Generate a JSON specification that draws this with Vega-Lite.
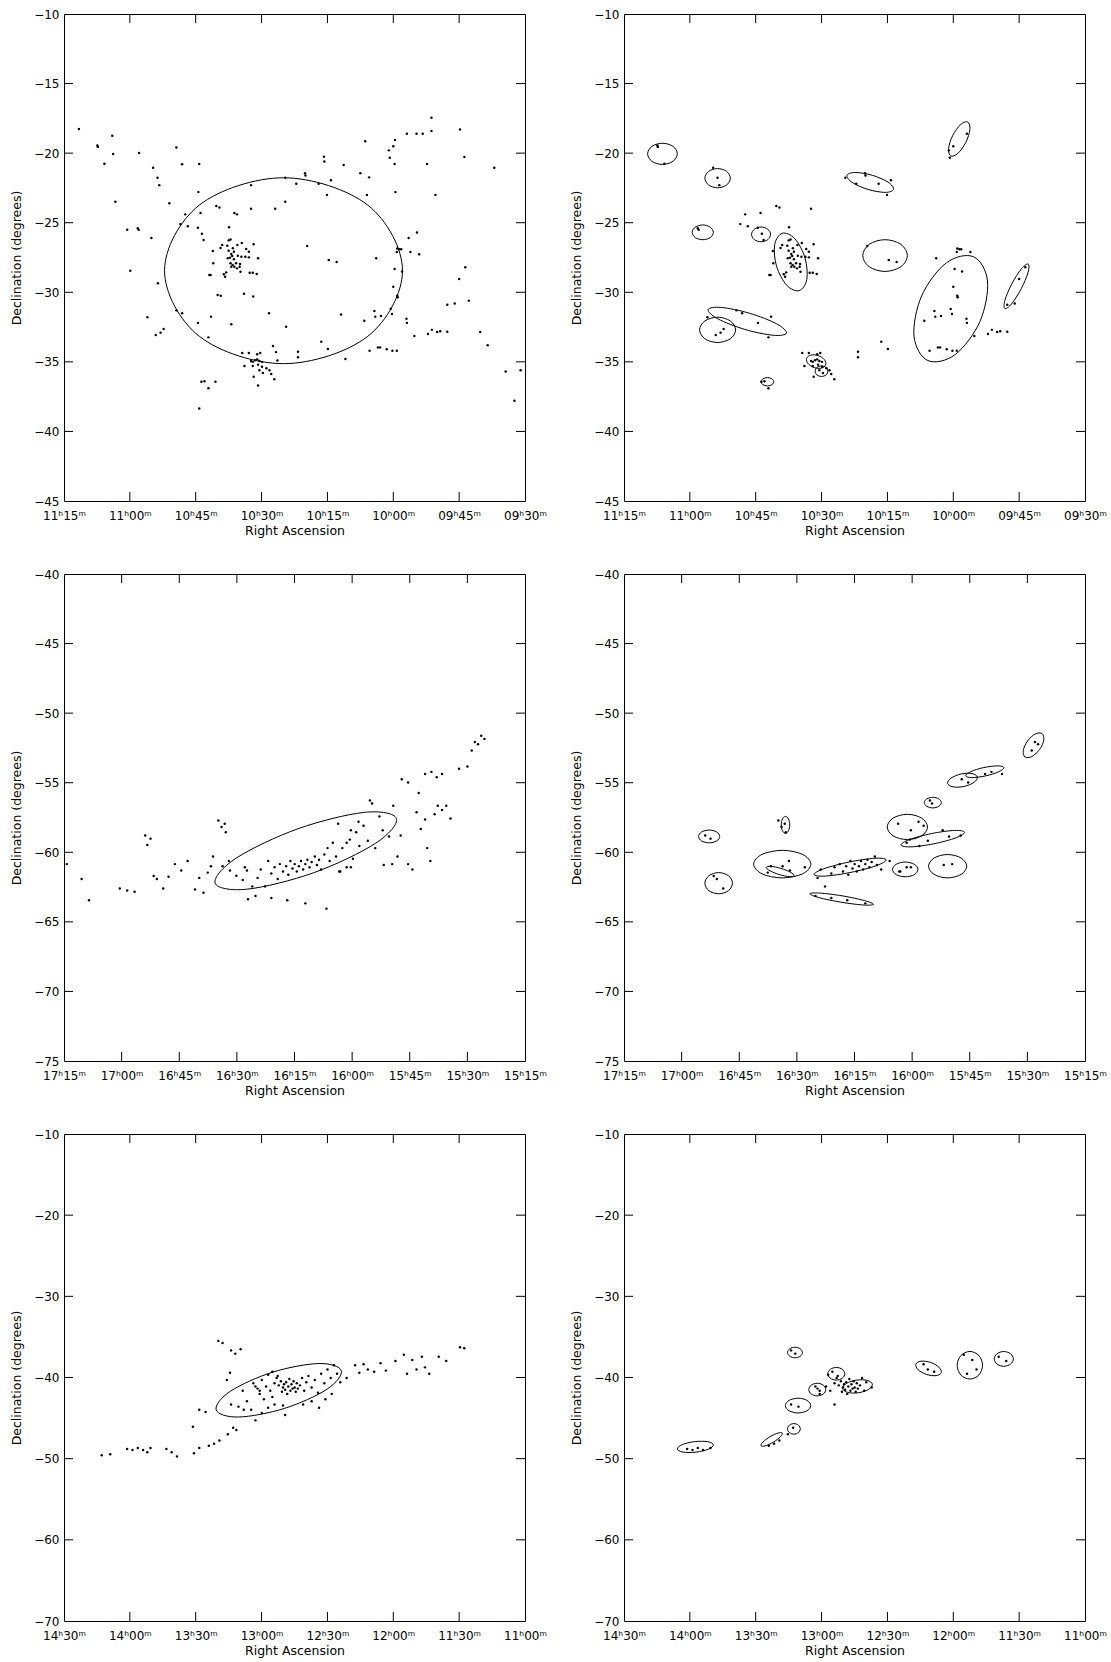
{
"$schema":"https://vega.github.io/schema/vega-lite/v6.json",
"autosize":{"type":"pad"},
"padding":{"left":10,"top":7,"right":5,"bottom":5},
"background":"white",
"config":{
"font":"DejaVu Sans",
"view":{"stroke":"black","strokeWidth":1},
"axis":{"grid":false,"domain":false,"ticks":false,"tickSize":0,"labelFont":"DejaVu Sans","labelFontSize":12,"labelColor":"black","labelOverlap":false,"labelFlush":false,"titleFont":"DejaVu Sans","titleFontSize":12.5,"titleFontWeight":"normal","titleColor":"black"},
"axisX":{"labelPadding":9,"titlePadding":3},
"axisY":{"labelPadding":5,"titlePadding":10}
},
"datasets":{
"pts1":[
{"ra":671.6,"de":-18.27,"g":0},{"ra":667.4,"de":-19.45,"g":1},{"ra":667.3,"de":-19.55,"g":1},{"ra":664.0,"de":-18.75,"g":0},{"ra":663.8,"de":-20.06,"g":0},{"ra":665.8,"de":-20.76,"g":1},{"ra":657.9,"de":-19.99,"g":0},{"ra":654.7,"de":-21.05,"g":1},{"ra":653.7,"de":-21.77,"g":1},{"ra":653.3,"de":-22.3,"g":1},{"ra":649.4,"de":-19.6,"g":0},{"ra":648.1,"de":-20.8,"g":0},{"ra":644.2,"de":-20.78,"g":0},{"ra":644.4,"de":-22.8,"g":0},{"ra":632.4,"de":-22.3,"g":0},{"ra":624.6,"de":-21.77,"g":1},{"ra":622.1,"de":-22.2,"g":1},
{"ra":651.0,"de":-23.6,"g":0},{"ra":647.4,"de":-24.4,"g":1},{"ra":648.5,"de":-25.1,"g":1},{"ra":646.8,"de":-25.26,"g":1},{"ra":643.9,"de":-24.3,"g":1},{"ra":640.3,"de":-23.8,"g":1},{"ra":639.6,"de":-23.9,"g":1},{"ra":636.2,"de":-24.3,"g":0},{"ra":635.6,"de":-24.4,"g":0},{"ra":632.4,"de":-24.0,"g":1},{"ra":626.9,"de":-24.0,"g":0},{"ra":624.6,"de":-23.5,"g":0},{"ra":620.1,"de":-21.45,"g":1},{"ra":620.0,"de":-21.6,"g":1},{"ra":615.8,"de":-20.26,"g":0},{"ra":615.7,"de":-20.6,"g":0},{"ra":611.3,"de":-20.85,"g":0},{"ra":617.0,"de":-22.2,"g":1},{"ra":614.2,"de":-21.95,"g":1},{"ra":615.1,"de":-23.0,"g":1},{"ra":607.5,"de":-21.45,"g":0},{"ra":605.5,"de":-21.74,"g":0},{"ra":606.0,"de":-23.0,"g":0},{"ra":600.8,"de":-20.33,"g":1},{"ra":599.7,"de":-20.78,"g":0},{"ra":599.5,"de":-22.8,"g":0},{"ra":592.3,"de":-20.78,"g":0},{"ra":590.4,"de":-23.0,"g":0},
{"ra":644.5,"de":-25.36,"g":1},{"ra":643.6,"de":-25.8,"g":1},{"ra":643.2,"de":-26.24,"g":1},{"ra":637.4,"de":-25.33,"g":1},{"ra":655.1,"de":-26.1,"g":0},{"ra":594.6,"de":-25.7,"g":0},{"ra":596.5,"de":-26.1,"g":0},{"ra":599.1,"de":-26.85,"g":1},{"ra":598.6,"de":-26.9,"g":1},{"ra":598.2,"de":-26.9,"g":1},{"ra":599.2,"de":-27.1,"g":1},{"ra":596.1,"de":-27.1,"g":1},{"ra":594.1,"de":-27.27,"g":0},{"ra":603.9,"de":-27.56,"g":1},{"ra":614.7,"de":-27.68,"g":1},{"ra":612.9,"de":-27.82,"g":1},{"ra":619.6,"de":-26.67,"g":1},{"ra":599.7,"de":-28.33,"g":1},{"ra":598.0,"de":-28.5,"g":1},{"ra":600.0,"de":-29.6,"g":1},{"ra":599.1,"de":-30.25,"g":1},{"ra":599.0,"de":-30.35,"g":1},{"ra":587.7,"de":-30.9,"g":1},{"ra":653.6,"de":-29.35,"g":0},{"ra":649.4,"de":-31.3,"g":1},{"ra":648.1,"de":-31.5,"g":1},{"ra":654.1,"de":-33.07,"g":1},{"ra":653.0,"de":-32.9,"g":1},{"ra":652.3,"de":-32.64,"g":1},{"ra":644.5,"de":-32.2,"g":1},{"ra":641.5,"de":-31.75,"g":1},{"ra":642.1,"de":-33.24,"g":1},{"ra":636.9,"de":-32.3,"g":0},{"ra":640.0,"de":-30.2,"g":0},{"ra":639.3,"de":-30.25,"g":0},{"ra":634.0,"de":-30.1,"g":0},{"ra":631.9,"de":-30.3,"g":0},{"ra":628.3,"de":-31.5,"g":0},{"ra":624.4,"de":-32.47,"g":0},{"ra":611.9,"de":-31.6,"g":0},{"ra":616.4,"de":-33.55,"g":1},{"ra":614.9,"de":-34.08,"g":1},{"ra":621.7,"de":-34.27,"g":1},{"ra":621.7,"de":-34.67,"g":1},{"ra":626.4,"de":-34.9,"g":0},{"ra":626.7,"de":-34.3,"g":0},{"ra":627.4,"de":-33.86,"g":0},{"ra":610.9,"de":-34.8,"g":0},{"ra":606.6,"de":-32.04,"g":1},{"ra":605.4,"de":-34.2,"g":1},{"ra":604.3,"de":-31.35,"g":1},{"ra":602.8,"de":-31.7,"g":1},{"ra":604.1,"de":-31.75,"g":1},{"ra":600.6,"de":-31.2,"g":1},{"ra":600.3,"de":-31.56,"g":1},{"ra":597.0,"de":-31.9,"g":1},{"ra":596.9,"de":-32.2,"g":1},{"ra":595.2,"de":-33.14,"g":1},{"ra":603.5,"de":-33.96,"g":1},{"ra":603.0,"de":-33.96,"g":1},{"ra":601.5,"de":-34.1,"g":1},{"ra":600.2,"de":-34.2,"g":1},{"ra":599.2,"de":-34.2,"g":1},{"ra":592.1,"de":-33.0,"g":1},{"ra":591.2,"de":-32.7,"g":1},{"ra":590.0,"de":-32.85,"g":1},{"ra":589.3,"de":-32.8,"g":1},{"ra":587.7,"de":-32.83,"g":1},
{"ra":634.4,"de":-34.36,"g":1},{"ra":632.9,"de":-34.36,"g":1},{"ra":631.0,"de":-34.45,"g":1},{"ra":630.3,"de":-34.36,"g":1},{"ra":632.4,"de":-34.94,"g":1},{"ra":632.0,"de":-35.0,"g":1},{"ra":631.5,"de":-34.88,"g":1},{"ra":631.0,"de":-34.82,"g":1},{"ra":630.5,"de":-34.94,"g":1},{"ra":629.9,"de":-35.0,"g":1},{"ra":633.9,"de":-35.3,"g":1},{"ra":632.0,"de":-35.3,"g":1},{"ra":630.8,"de":-35.2,"g":1},{"ra":629.9,"de":-35.35,"g":1},{"ra":628.9,"de":-35.46,"g":1},{"ra":628.2,"de":-35.6,"g":1},{"ra":630.5,"de":-35.6,"g":1},{"ra":629.7,"de":-35.8,"g":1},{"ra":627.8,"de":-35.87,"g":1},{"ra":627.1,"de":-36.25,"g":1},{"ra":631.8,"de":-36.07,"g":1},{"ra":630.8,"de":-36.7,"g":0},{"ra":643.7,"de":-36.43,"g":1},{"ra":643.0,"de":-36.4,"g":1},{"ra":640.5,"de":-36.43,"g":0},{"ra":642.1,"de":-36.9,"g":1},
{"ra":641.1,"de":-27.03,"g":1},{"ra":639.35,"de":-26.82,"g":1},{"ra":638.97,"de":-26.6,"g":1},{"ra":637.8,"de":-26.65,"g":1},{"ra":637.5,"de":-26.27,"g":1},{"ra":637.07,"de":-26.2,"g":1},{"ra":636.54,"de":-26.84,"g":1},{"ra":636.3,"de":-27.08,"g":1},{"ra":637.5,"de":-27.01,"g":1},{"ra":636.9,"de":-27.25,"g":1},{"ra":636.7,"de":-27.39,"g":1},{"ra":637.2,"de":-27.51,"g":1},{"ra":637.7,"de":-27.56,"g":1},{"ra":636.3,"de":-27.63,"g":1},{"ra":637.07,"de":-27.92,"g":1},{"ra":636.6,"de":-28.04,"g":1},{"ra":636.9,"de":-28.16,"g":1},{"ra":636.2,"de":-28.16,"g":1},{"ra":635.6,"de":-28.28,"g":1},{"ra":635.0,"de":-28.16,"g":1},{"ra":634.8,"de":-28.52,"g":1},{"ra":638.06,"de":-28.57,"g":1},{"ra":638.6,"de":-28.71,"g":1},{"ra":638.3,"de":-28.88,"g":1},{"ra":641.0,"de":-27.92,"g":1},{"ra":641.9,"de":-28.76,"g":1},{"ra":641.6,"de":-28.76,"g":1},{"ra":635.5,"de":-26.6,"g":1},{"ra":634.5,"de":-26.46,"g":1},{"ra":633.5,"de":-26.89,"g":1},{"ra":632.9,"de":-27.08,"g":1},{"ra":631.8,"de":-26.55,"g":1},{"ra":635.4,"de":-27.37,"g":1},{"ra":634.6,"de":-27.44,"g":1},{"ra":633.7,"de":-27.44,"g":1},{"ra":632.9,"de":-27.49,"g":1},{"ra":630.8,"de":-27.56,"g":1},{"ra":635.8,"de":-27.92,"g":1},{"ra":634.9,"de":-27.97,"g":1},{"ra":632.7,"de":-28.59,"g":1},{"ra":632.0,"de":-28.59,"g":1},{"ra":631.1,"de":-28.69,"g":1},
{"ra":663.3,"de":-23.5,"g":0},{"ra":660.6,"de":-25.5,"g":0},{"ra":658.2,"de":-25.4,"g":1},{"ra":658.0,"de":-25.5,"g":1},{"ra":659.9,"de":-28.45,"g":0},{"ra":656.0,"de":-31.8,"g":1},{"ra":644.2,"de":-38.35,"g":0},{"ra":606.4,"de":-19.15,"g":0},{"ra":601.0,"de":-19.8,"g":1},{"ra":600.0,"de":-19.5,"g":1},{"ra":599.6,"de":-19.05,"g":0},{"ra":596.9,"de":-18.6,"g":1},{"ra":594.7,"de":-18.6,"g":0},{"ra":593.3,"de":-18.6,"g":0},{"ra":591.3,"de":-17.46,"g":0},{"ra":591.3,"de":-18.4,"g":0},{"ra":584.8,"de":-18.3,"g":0},{"ra":583.8,"de":-20.28,"g":0},{"ra":577.0,"de":-21.05,"g":0},{"ra":583.6,"de":-28.2,"g":1},{"ra":585.0,"de":-29.05,"g":1},{"ra":586.0,"de":-30.8,"g":1},{"ra":582.8,"de":-30.6,"g":0},{"ra":580.2,"de":-32.85,"g":0},{"ra":578.5,"de":-33.8,"g":0},{"ra":574.4,"de":-35.7,"g":0},{"ra":572.4,"de":-37.8,"g":0},{"ra":571.0,"de":-35.6,"g":0}
],
"ell1":[
{"e":1,"i":0,"ra":652.1,"de":-28.45},{"e":1,"i":1,"ra":644.16,"de":-23.73},{"e":1,"i":2,"ra":625.0,"de":-21.77},{"e":1,"i":3,"ra":605.84,"de":-23.73},{"e":1,"i":4,"ra":597.9,"de":-28.45},{"e":1,"i":5,"ra":605.84,"de":-33.17},{"e":1,"i":6,"ra":625.0,"de":-35.13},{"e":1,"i":7,"ra":644.16,"de":-33.17}
],
"ell2":[
{"e":1,"i":0,"ra":669.62,"de":-20.05},{"e":1,"i":1,"ra":668.63,"de":-19.51},{"e":1,"i":2,"ra":666.24,"de":-19.29},{"e":1,"i":3,"ra":663.85,"de":-19.51},{"e":1,"i":4,"ra":662.86,"de":-20.05},{"e":1,"i":5,"ra":663.85,"de":-20.59},{"e":1,"i":6,"ra":666.24,"de":-20.81},{"e":1,"i":7,"ra":668.63,"de":-20.59},
{"e":2,"i":0,"ra":656.58,"de":-21.8},{"e":2,"i":1,"ra":655.73,"de":-21.31},{"e":2,"i":2,"ra":653.68,"de":-21.11},{"e":2,"i":3,"ra":651.63,"de":-21.31},{"e":2,"i":4,"ra":650.78,"de":-21.8},{"e":2,"i":5,"ra":651.63,"de":-22.29},{"e":2,"i":6,"ra":653.68,"de":-22.49},{"e":2,"i":7,"ra":655.73,"de":-22.29},
{"e":3,"i":0,"ra":659.47,"de":-25.69},{"e":3,"i":1,"ra":658.76,"de":-25.32},{"e":3,"i":2,"ra":657.06,"de":-25.16},{"e":3,"i":3,"ra":655.36,"de":-25.32},{"e":3,"i":4,"ra":654.65,"de":-25.69},{"e":3,"i":5,"ra":655.36,"de":-26.07},{"e":3,"i":6,"ra":657.06,"de":-26.22},{"e":3,"i":7,"ra":658.76,"de":-26.07},
{"e":4,"i":0,"ra":657.78,"de":-32.7},{"e":4,"i":1,"ra":656.58,"de":-32.06},{"e":4,"i":2,"ra":653.68,"de":-31.79},{"e":4,"i":3,"ra":650.78,"de":-32.06},{"e":4,"i":4,"ra":649.58,"de":-32.7},{"e":4,"i":5,"ra":650.78,"de":-33.34},{"e":4,"i":6,"ra":653.68,"de":-33.61},{"e":4,"i":7,"ra":656.58,"de":-33.34},
{"e":5,"i":0,"ra":637.99,"de":-32.93},{"e":5,"i":1,"ra":641.0,"de":-33.09},{"e":5,"i":2,"ra":647.47,"de":-32.67},{"e":5,"i":3,"ra":653.62,"de":-31.91},{"e":5,"i":4,"ra":655.85,"de":-31.25},{"e":5,"i":5,"ra":652.84,"de":-31.09},{"e":5,"i":6,"ra":646.37,"de":-31.51},{"e":5,"i":7,"ra":640.22,"de":-32.27},
{"e":6,"i":0,"ra":645.95,"de":-25.84},{"e":6,"i":1,"ra":645.31,"de":-25.47},{"e":6,"i":2,"ra":643.78,"de":-25.31},{"e":6,"i":3,"ra":642.25,"de":-25.47},{"e":6,"i":4,"ra":641.61,"de":-25.84},{"e":6,"i":5,"ra":642.25,"de":-26.22},{"e":6,"i":6,"ra":643.78,"de":-26.37},{"e":6,"i":7,"ra":645.31,"de":-26.22},
{"e":7,"i":0,"ra":635.09,"de":-29.88},{"e":7,"i":1,"ra":633.36,"de":-29.07},{"e":7,"i":2,"ra":633.78,"de":-27.52},{"e":7,"i":3,"ra":636.09,"de":-26.15},{"e":7,"i":4,"ra":638.95,"de":-25.76},{"e":7,"i":5,"ra":640.68,"de":-26.58},{"e":7,"i":6,"ra":640.26,"de":-28.12},{"e":7,"i":7,"ra":637.95,"de":-29.49},
{"e":8,"i":0,"ra":643.78,"de":-36.43},{"e":8,"i":1,"ra":643.36,"de":-36.22},{"e":8,"i":2,"ra":642.33,"de":-36.13},{"e":8,"i":3,"ra":641.31,"de":-36.22},{"e":8,"i":4,"ra":640.88,"de":-36.43},{"e":8,"i":5,"ra":641.31,"de":-36.64},{"e":8,"i":6,"ra":642.33,"de":-36.73},{"e":8,"i":7,"ra":643.36,"de":-36.64},
{"e":9,"i":0,"ra":629.06,"de":-35.21},{"e":9,"i":1,"ra":630.02,"de":-35.45},{"e":9,"i":2,"ra":631.69,"de":-35.41},{"e":9,"i":3,"ra":633.09,"de":-35.12},{"e":9,"i":4,"ra":633.4,"de":-34.75},{"e":9,"i":5,"ra":632.44,"de":-34.51},{"e":9,"i":6,"ra":630.77,"de":-34.55},{"e":9,"i":7,"ra":629.37,"de":-34.84},
{"e":10,"i":0,"ra":631.47,"de":-35.67},{"e":10,"i":1,"ra":631.05,"de":-35.4},{"e":10,"i":2,"ra":630.02,"de":-35.29},{"e":10,"i":3,"ra":628.99,"de":-35.4},{"e":10,"i":4,"ra":628.57,"de":-35.67},{"e":10,"i":5,"ra":628.99,"de":-35.94},{"e":10,"i":6,"ra":630.02,"de":-36.05},{"e":10,"i":7,"ra":631.05,"de":-35.94},
{"e":11,"i":0,"ra":613.61,"de":-22.6},{"e":11,"i":1,"ra":615.5,"de":-22.82},{"e":11,"i":2,"ra":619.4,"de":-22.61},{"e":11,"i":3,"ra":623.01,"de":-22.11},{"e":11,"i":4,"ra":624.23,"de":-21.6},{"e":11,"i":5,"ra":622.34,"de":-21.39},{"e":11,"i":6,"ra":618.44,"de":-21.59},{"e":11,"i":7,"ra":614.83,"de":-22.09},
{"e":12,"i":0,"ra":620.61,"de":-27.36},{"e":12,"i":1,"ra":619.13,"de":-26.55},{"e":12,"i":2,"ra":615.54,"de":-26.22},{"e":12,"i":3,"ra":611.96,"de":-26.55},{"e":12,"i":4,"ra":610.47,"de":-27.36},{"e":12,"i":5,"ra":611.96,"de":-28.17},{"e":12,"i":6,"ra":615.54,"de":-28.5},{"e":12,"i":7,"ra":619.13,"de":-28.17},
{"e":13,"i":0,"ra":595.38,"de":-27.45},{"e":13,"i":1,"ra":592.21,"de":-29.19},{"e":13,"i":2,"ra":593.93,"de":-32.1},{"e":13,"i":3,"ra":599.55,"de":-34.47},{"e":13,"i":4,"ra":605.76,"de":-34.91},{"e":13,"i":5,"ra":608.94,"de":-33.17},{"e":13,"i":6,"ra":607.21,"de":-30.26},{"e":13,"i":7,"ra":601.6,"de":-27.89},
{"e":14,"i":0,"ra":596.71,"de":-17.76},{"e":14,"i":1,"ra":596.21,"de":-18.29},{"e":14,"i":2,"ra":597.13,"de":-19.22},{"e":14,"i":3,"ra":598.94,"de":-20.01},{"e":14,"i":4,"ra":600.57,"de":-20.2},{"e":14,"i":5,"ra":601.07,"de":-19.67},{"e":14,"i":6,"ra":600.15,"de":-18.74},{"e":14,"i":7,"ra":598.34,"de":-17.95},
{"e":15,"i":0,"ra":582.94,"de":-27.97},{"e":15,"i":1,"ra":582.96,"de":-28.57},{"e":15,"i":2,"ra":584.53,"de":-29.75},{"e":15,"i":3,"ra":586.72,"de":-30.83},{"e":15,"i":4,"ra":588.26,"de":-31.17},{"e":15,"i":5,"ra":588.24,"de":-30.57},{"e":15,"i":6,"ra":586.67,"de":-29.39},{"e":15,"i":7,"ra":584.48,"de":-28.31}
],
"pts3":[
{"ra":1034.28,"de":-60.85,"g":0},{"ra":1030.42,"de":-61.92,"g":0},{"ra":1028.49,"de":-63.44,"g":0},{"ra":1020.48,"de":-62.6,"g":0},{"ra":1018.55,"de":-62.75,"g":0},{"ra":1016.62,"de":-62.83,"g":0},{"ra":1013.86,"de":-58.79,"g":1},{"ra":1012.48,"de":-59.02,"g":1},{"ra":1013.31,"de":-59.48,"g":0},{"ra":1011.65,"de":-61.7,"g":1},{"ra":1010.83,"de":-61.92,"g":1},{"ra":1009.17,"de":-62.6,"g":1},{"ra":1007.79,"de":-61.76,"g":0},{"ra":1006.14,"de":-60.85,"g":0},{"ra":1004.48,"de":-61.31,"g":0},{"ra":1002.82,"de":-60.62,"g":0},{"ra":1000.89,"de":-62.68,"g":0},{"ra":999.79,"de":-61.84,"g":0},{"ra":998.69,"de":-62.91,"g":0},{"ra":997.58,"de":-61.46,"g":1},
{"ra":994.82,"de":-57.72,"g":1},{"ra":993.99,"de":-58.18,"g":1},{"ra":993.17,"de":-57.95,"g":1},{"ra":992.89,"de":-58.56,"g":1},{"ra":993.72,"de":-61.0,"g":1},{"ra":991.79,"de":-61.31,"g":1},{"ra":990.13,"de":-61.69,"g":0},{"ra":988.48,"de":-61.99,"g":0},{"ra":987.37,"de":-61.31,"g":0},{"ra":985.99,"de":-62.45,"g":0},{"ra":984.61,"de":-61.84,"g":1},{"ra":983.78,"de":-61.23,"g":1},{"ra":982.68,"de":-62.45,"g":1},{"ra":981.85,"de":-60.62,"g":0},{"ra":981.03,"de":-61.53,"g":1},{"ra":980.2,"de":-61.08,"g":1},{"ra":979.37,"de":-61.92,"g":0},{"ra":978.82,"de":-60.85,"g":1},{"ra":977.99,"de":-61.38,"g":1},{"ra":977.16,"de":-61.0,"g":1},
{"ra":976.61,"de":-61.61,"g":1},{"ra":976.06,"de":-60.62,"g":1},{"ra":975.51,"de":-61.16,"g":1},{"ra":974.95,"de":-60.85,"g":1},{"ra":974.4,"de":-61.38,"g":1},{"ra":973.85,"de":-61.0,"g":1},{"ra":973.3,"de":-60.62,"g":1},{"ra":972.75,"de":-61.23,"g":1},{"ra":972.19,"de":-60.85,"g":1},{"ra":971.64,"de":-60.54,"g":1},{"ra":971.09,"de":-61.08,"g":1},{"ra":970.54,"de":-60.7,"g":1},{"ra":969.71,"de":-60.31,"g":1},{"ra":969.16,"de":-60.92,"g":1},{"ra":968.61,"de":-60.54,"g":0},{"ra":968.06,"de":-61.23,"g":1},{"ra":967.23,"de":-60.16,"g":0},{"ra":966.4,"de":-59.7,"g":0},{"ra":965.85,"de":-60.62,"g":1},{"ra":965.02,"de":-59.32,"g":0},
{"ra":964.19,"de":-60.31,"g":0},{"ra":963.36,"de":-61.38,"g":1},{"ra":962.54,"de":-59.7,"g":0},{"ra":961.43,"de":-61.08,"g":1},{"ra":960.61,"de":-59.09,"g":1},{"ra":959.78,"de":-60.47,"g":0},{"ra":958.95,"de":-58.56,"g":0},{"ra":958.12,"de":-59.55,"g":1},{"ra":957.02,"de":-58.1,"g":1},{"ra":955.91,"de":-59.17,"g":1},{"ra":954.81,"de":-56.5,"g":1},{"ra":953.98,"de":-59.7,"g":0},{"ra":952.88,"de":-57.42,"g":0},{"ra":952.05,"de":-58.41,"g":1},{"ra":950.4,"de":-58.87,"g":1},{"ra":949.29,"de":-56.66,"g":0},{"ra":948.19,"de":-60.31,"g":0},{"ra":947.36,"de":-58.79,"g":1},{"ra":951.77,"de":-60.92,"g":1},{"ra":949.57,"de":-60.85,"g":1},
{"ra":945.43,"de":-60.85,"g":0},{"ra":944.32,"de":-61.23,"g":0},{"ra":943.22,"de":-57.12,"g":0},{"ra":942.67,"de":-55.74,"g":0},{"ra":942.12,"de":-58.33,"g":0},{"ra":941.01,"de":-57.65,"g":0},{"ra":940.46,"de":-59.7,"g":0},{"ra":939.63,"de":-60.62,"g":0},{"ra":938.53,"de":-57.27,"g":0},{"ra":937.7,"de":-56.66,"g":0},{"ra":936.6,"de":-56.96,"g":0},{"ra":935.49,"de":-56.66,"g":0},{"ra":934.39,"de":-57.57,"g":0},{"ra":941.01,"de":-54.37,"g":1},{"ra":939.36,"de":-54.22,"g":1},{"ra":937.98,"de":-54.6,"g":0},{"ra":936.6,"de":-54.37,"g":1},{"ra":947.08,"de":-54.75,"g":1},{"ra":945.43,"de":-54.98,"g":1},{"ra":932.18,"de":-53.99,"g":0},
{"ra":929.98,"de":-53.84,"g":0},{"ra":928.87,"de":-52.69,"g":1},{"ra":928.04,"de":-52.08,"g":1},{"ra":927.22,"de":-52.24,"g":1},{"ra":926.39,"de":-51.63,"g":0},{"ra":925.56,"de":-51.85,"g":0},{"ra":985.16,"de":-63.14,"g":1},{"ra":981.03,"de":-63.29,"g":1},{"ra":976.89,"de":-63.44,"g":1},{"ra":972.19,"de":-63.67,"g":1},{"ra":966.68,"de":-64.05,"g":0},{"ra":987.1,"de":-63.37,"g":0},{"ra":963.09,"de":-61.38,"g":1},{"ra":960.33,"de":-61.08,"g":1},{"ra":963.64,"de":-57.95,"g":1},{"ra":960.33,"de":-58.41,"g":1},{"ra":958.33,"de":-57.8,"g":1},{"ra":955.36,"de":-56.28,"g":1},{"ra":961.43,"de":-59.32,"g":1},{"ra":996.2,"de":-60.31,"g":0},
{"ra":987.92,"de":-61.08,"g":1},{"ra":996.75,"de":-61.0,"g":1},{"ra":992.07,"de":-60.62,"g":1}
],
"ell3":[
{"e":1,"i":0,"ra":948.47,"de":-57.57},{"e":1,"i":1,"ra":953.94,"de":-59.36},{"e":1,"i":2,"ra":970.02,"de":-61.47},{"e":1,"i":3,"ra":987.3,"de":-62.65},{"e":1,"i":4,"ra":995.65,"de":-62.22},{"e":1,"i":5,"ra":990.18,"de":-60.42},{"e":1,"i":6,"ra":974.1,"de":-58.31},{"e":1,"i":7,"ra":956.82,"de":-57.13}
],
"ell4":[
{"e":1,"i":0,"ra":1015.6,"de":-58.86},{"e":1,"i":1,"ra":1014.79,"de":-58.54},{"e":1,"i":2,"ra":1012.84,"de":-58.4},{"e":1,"i":3,"ra":1010.89,"de":-58.54},{"e":1,"i":4,"ra":1010.08,"de":-58.86},{"e":1,"i":5,"ra":1010.89,"de":-59.19},{"e":1,"i":6,"ra":1012.84,"de":-59.32},{"e":1,"i":7,"ra":1014.79,"de":-59.19},
{"e":2,"i":0,"ra":1013.95,"de":-62.22},{"e":2,"i":1,"ra":1012.9,"de":-61.68},{"e":2,"i":2,"ra":1010.36,"de":-61.46},{"e":2,"i":3,"ra":1007.82,"de":-61.68},{"e":2,"i":4,"ra":1006.77,"de":-62.22},{"e":2,"i":5,"ra":1007.82,"de":-62.76},{"e":2,"i":6,"ra":1010.36,"de":-62.98},{"e":2,"i":7,"ra":1012.9,"de":-62.76},
{"e":3,"i":0,"ra":994.07,"de":-58.03},{"e":3,"i":1,"ra":993.75,"de":-57.6},{"e":3,"i":2,"ra":992.97,"de":-57.42},{"e":3,"i":3,"ra":992.19,"de":-57.6},{"e":3,"i":4,"ra":991.87,"de":-58.03},{"e":3,"i":5,"ra":992.19,"de":-58.46},{"e":3,"i":6,"ra":992.97,"de":-58.64},{"e":3,"i":7,"ra":993.75,"de":-58.46},
{"e":4,"i":0,"ra":1001.25,"de":-60.85},{"e":4,"i":1,"ra":999.07,"de":-60.15},{"e":4,"i":2,"ra":993.8,"de":-59.86},{"e":4,"i":3,"ra":988.53,"de":-60.15},{"e":4,"i":4,"ra":986.35,"de":-60.85},{"e":4,"i":5,"ra":988.53,"de":-61.55},{"e":4,"i":6,"ra":993.8,"de":-61.84},{"e":4,"i":7,"ra":999.07,"de":-61.55},
{"e":5,"i":0,"ra":990.76,"de":-61.68},{"e":5,"i":1,"ra":991.98,"de":-61.75},{"e":5,"i":2,"ra":994.59,"de":-61.6},{"e":5,"i":3,"ra":997.06,"de":-61.32},{"e":5,"i":4,"ra":997.94,"de":-61.08},{"e":5,"i":5,"ra":996.72,"de":-61.01},{"e":5,"i":6,"ra":994.11,"de":-61.16},{"e":5,"i":7,"ra":991.64,"de":-61.44},
{"e":6,"i":0,"ra":966.76,"de":-60.54},{"e":6,"i":1,"ra":969.31,"de":-60.96},{"e":6,"i":2,"ra":975.86,"de":-61.44},{"e":6,"i":3,"ra":982.58,"de":-61.71},{"e":6,"i":4,"ra":985.52,"de":-61.6},{"e":6,"i":5,"ra":982.97,"de":-61.18},{"e":6,"i":6,"ra":976.42,"de":-60.7},{"e":6,"i":7,"ra":969.71,"de":-60.43},
{"e":7,"i":0,"ra":970.07,"de":-63.74},{"e":7,"i":1,"ra":972.59,"de":-63.79},{"e":7,"i":2,"ra":978.49,"de":-63.59},{"e":7,"i":3,"ra":984.3,"de":-63.25},{"e":7,"i":4,"ra":986.63,"de":-62.98},{"e":7,"i":5,"ra":984.11,"de":-62.93},{"e":7,"i":6,"ra":978.21,"de":-63.13},{"e":7,"i":7,"ra":972.4,"de":-63.47},
{"e":8,"i":0,"ra":965.1,"de":-61.23},{"e":8,"i":1,"ra":964.13,"de":-60.86},{"e":8,"i":2,"ra":961.79,"de":-60.7},{"e":8,"i":3,"ra":959.45,"de":-60.86},{"e":8,"i":4,"ra":958.48,"de":-61.23},{"e":8,"i":5,"ra":959.45,"de":-61.61},{"e":8,"i":6,"ra":961.79,"de":-61.76},{"e":8,"i":7,"ra":964.13,"de":-61.61},
{"e":9,"i":0,"ra":966.48,"de":-58.18},{"e":9,"i":1,"ra":964.95,"de":-57.54},{"e":9,"i":2,"ra":961.24,"de":-57.27},{"e":9,"i":3,"ra":957.54,"de":-57.54},{"e":9,"i":4,"ra":956.0,"de":-58.18},{"e":9,"i":5,"ra":957.54,"de":-58.82},{"e":9,"i":6,"ra":961.24,"de":-59.09},{"e":9,"i":7,"ra":964.95,"de":-58.82},
{"e":10,"i":0,"ra":956.83,"de":-56.43},{"e":10,"i":1,"ra":956.18,"de":-56.16},{"e":10,"i":2,"ra":954.62,"de":-56.05},{"e":10,"i":3,"ra":953.06,"de":-56.16},{"e":10,"i":4,"ra":952.41,"de":-56.43},{"e":10,"i":5,"ra":953.06,"de":-56.7},{"e":10,"i":6,"ra":954.62,"de":-56.81},{"e":10,"i":7,"ra":956.18,"de":-56.7},
{"e":11,"i":0,"ra":946.34,"de":-58.56},{"e":11,"i":1,"ra":948.57,"de":-58.96},{"e":11,"i":2,"ra":954.35,"de":-59.39},{"e":11,"i":3,"ra":960.28,"de":-59.61},{"e":11,"i":4,"ra":962.9,"de":-59.48},{"e":11,"i":5,"ra":960.67,"de":-59.08},{"e":11,"i":6,"ra":954.89,"de":-58.65},{"e":11,"i":7,"ra":948.96,"de":-58.43},
{"e":12,"i":0,"ra":955.73,"de":-61.0},{"e":12,"i":1,"ra":954.27,"de":-60.41},{"e":12,"i":2,"ra":950.76,"de":-60.16},{"e":12,"i":3,"ra":947.25,"de":-60.41},{"e":12,"i":4,"ra":945.79,"de":-61.0},{"e":12,"i":5,"ra":947.25,"de":-61.59},{"e":12,"i":6,"ra":950.76,"de":-61.84},{"e":12,"i":7,"ra":954.27,"de":-61.59},
{"e":13,"i":0,"ra":943.03,"de":-54.59},{"e":13,"i":1,"ra":943.91,"de":-54.98},{"e":13,"i":2,"ra":946.54,"de":-55.27},{"e":13,"i":3,"ra":949.37,"de":-55.3},{"e":13,"i":4,"ra":950.75,"de":-55.05},{"e":13,"i":5,"ra":949.87,"de":-54.67},{"e":13,"i":6,"ra":947.24,"de":-54.37},{"e":13,"i":7,"ra":944.41,"de":-54.34},
{"e":14,"i":0,"ra":936.13,"de":-53.91},{"e":14,"i":1,"ra":937.42,"de":-54.21},{"e":14,"i":2,"ra":940.86,"de":-54.51},{"e":14,"i":3,"ra":944.44,"de":-54.63},{"e":14,"i":4,"ra":946.07,"de":-54.51},{"e":14,"i":5,"ra":944.78,"de":-54.21},{"e":14,"i":6,"ra":941.34,"de":-53.91},{"e":14,"i":7,"ra":937.76,"de":-53.79},
{"e":15,"i":0,"ra":926.19,"de":-51.47},{"e":15,"i":1,"ra":925.73,"de":-51.94},{"e":15,"i":2,"ra":926.84,"de":-52.62},{"e":15,"i":3,"ra":928.86,"de":-53.12},{"e":15,"i":4,"ra":930.61,"de":-53.15},{"e":15,"i":5,"ra":931.07,"de":-52.69},{"e":15,"i":6,"ra":929.96,"de":-52.0},{"e":15,"i":7,"ra":927.94,"de":-51.5}
],
"pts5":[
{"ra":852.81,"de":-49.59,"g":0},{"ra":848.95,"de":-49.46,"g":0},{"ra":841.22,"de":-48.81,"g":1},{"ra":838.81,"de":-48.94,"g":1},{"ra":836.39,"de":-48.68,"g":1},{"ra":833.98,"de":-48.94,"g":1},{"ra":832.05,"de":-49.2,"g":0},{"ra":830.6,"de":-48.68,"g":1},{"ra":823.35,"de":-48.81,"g":0},{"ra":820.94,"de":-49.2,"g":0},{"ra":818.52,"de":-49.72,"g":0},{"ra":810.8,"de":-49.33,"g":0},{"ra":808.39,"de":-48.68,"g":0},{"ra":804.04,"de":-48.42,"g":1},{"ra":801.63,"de":-48.16,"g":1},{"ra":799.21,"de":-47.77,"g":1},{"ra":795.35,"de":-46.99,"g":1},{"ra":792.94,"de":-46.2,"g":1},{"ra":791.49,"de":-46.46,"g":0},{"ra":811.28,"de":-46.07,"g":0},
{"ra":808.39,"de":-43.98,"g":0},{"ra":805.49,"de":-44.24,"g":0},{"ra":793.9,"de":-43.33,"g":1},{"ra":790.52,"de":-43.59,"g":1},{"ra":788.11,"de":-43.98,"g":0},{"ra":799.69,"de":-35.49,"g":0},{"ra":797.76,"de":-35.75,"g":0},{"ra":793.9,"de":-36.66,"g":1},{"ra":791.97,"de":-37.06,"g":1},{"ra":789.55,"de":-36.53,"g":0},{"ra":795.83,"de":-40.32,"g":0},{"ra":794.38,"de":-39.41,"g":0},{"ra":786.66,"de":-42.93,"g":0},{"ra":784.73,"de":-43.98,"g":0},{"ra":782.79,"de":-45.28,"g":0},{"ra":780.86,"de":-42.02,"g":1},{"ra":783.76,"de":-40.71,"g":0},{"ra":781.83,"de":-41.37,"g":1},{"ra":779.9,"de":-40.32,"g":0},{"ra":778.93,"de":-42.67,"g":0},
{"ra":777.96,"de":-41.1,"g":1},{"ra":777.0,"de":-39.67,"g":1},{"ra":776.03,"de":-41.63,"g":1},{"ra":775.07,"de":-42.41,"g":0},{"ra":774.1,"de":-40.71,"g":1},{"ra":773.14,"de":-40.06,"g":1},{"ra":772.17,"de":-40.97,"g":1},{"ra":771.2,"de":-40.45,"g":1},{"ra":770.72,"de":-41.76,"g":1},{"ra":770.24,"de":-41.23,"g":1},{"ra":769.76,"de":-40.84,"g":1},{"ra":769.27,"de":-41.5,"g":1},{"ra":768.79,"de":-40.58,"g":1},{"ra":768.31,"de":-42.02,"g":1},{"ra":767.82,"de":-41.1,"g":1},{"ra":767.34,"de":-40.19,"g":1},{"ra":766.86,"de":-41.63,"g":1},{"ra":766.38,"de":-40.84,"g":1},{"ra":765.89,"de":-41.37,"g":1},{"ra":765.41,"de":-40.45,"g":1},
{"ra":764.93,"de":-41.23,"g":1},{"ra":764.45,"de":-41.76,"g":1},{"ra":763.96,"de":-40.71,"g":1},{"ra":763.48,"de":-41.37,"g":1},{"ra":762.51,"de":-40.97,"g":1},{"ra":761.55,"de":-40.06,"g":1},{"ra":760.58,"de":-41.63,"g":1},{"ra":759.62,"de":-40.58,"g":1},{"ra":758.65,"de":-39.8,"g":0},{"ra":757.2,"de":-41.23,"g":1},{"ra":755.75,"de":-40.32,"g":0},{"ra":754.3,"de":-41.89,"g":0},{"ra":752.86,"de":-39.54,"g":0},{"ra":751.41,"de":-40.71,"g":0},{"ra":749.96,"de":-39.02,"g":0},{"ra":748.51,"de":-40.06,"g":0},{"ra":747.06,"de":-38.49,"g":0},{"ra":745.61,"de":-39.54,"g":0},{"ra":744.16,"de":-40.58,"g":0},{"ra":777.0,"de":-43.72,"g":0},
{"ra":774.1,"de":-43.33,"g":1},{"ra":770.24,"de":-43.46,"g":0},{"ra":769.27,"de":-44.63,"g":0},{"ra":761.06,"de":-43.33,"g":0},{"ra":757.2,"de":-42.93,"g":0},{"ra":753.82,"de":-43.72,"g":0},{"ra":750.93,"de":-42.67,"g":0},{"ra":748.03,"de":-42.02,"g":0},{"ra":788.59,"de":-41.63,"g":0},{"ra":782.79,"de":-41.1,"g":1},{"ra":780.86,"de":-41.63,"g":1},{"ra":775.07,"de":-39.28,"g":1},{"ra":772.65,"de":-39.8,"g":1},{"ra":741.27,"de":-40.06,"g":0},{"ra":737.4,"de":-38.49,"g":0},{"ra":735.47,"de":-39.41,"g":0},{"ra":733.54,"de":-38.36,"g":1},{"ra":731.61,"de":-39.02,"g":1},{"ra":728.71,"de":-39.28,"g":1},{"ra":725.82,"de":-38.23,"g":0},
{"ra":723.4,"de":-39.15,"g":0},{"ra":719.02,"de":-37.97,"g":0},{"ra":715.19,"de":-37.19,"g":1},{"ra":713.75,"de":-39.54,"g":1},{"ra":711.33,"de":-37.84,"g":1},{"ra":709.4,"de":-39.02,"g":1},{"ra":706.98,"de":-37.45,"g":0},{"ra":703.6,"de":-39.54,"g":0},{"ra":699.3,"de":-37.45,"g":1},{"ra":695.88,"de":-37.97,"g":1},{"ra":689.61,"de":-36.27,"g":0},{"ra":687.68,"de":-36.4,"g":0},{"ra":705.54,"de":-38.75,"g":0},{"ra":779.9,"de":-44.37,"g":0}
],
"ell5":[
{"e":1,"i":0,"ra":743.71,"de":-39.15},{"e":1,"i":1,"ra":750.22,"de":-41.45},{"e":1,"i":2,"ra":769.6,"de":-43.81},{"e":1,"i":3,"ra":790.51,"de":-44.87},{"e":1,"i":4,"ra":800.69,"de":-43.99},{"e":1,"i":5,"ra":794.18,"de":-41.69},{"e":1,"i":6,"ra":774.8,"de":-39.33},{"e":1,"i":7,"ra":753.89,"de":-38.28}
],
"ell6":[
{"e":1,"i":0,"ra":829.29,"de":-48.29},{"e":1,"i":1,"ra":831.5,"de":-48.83},{"e":1,"i":2,"ra":837.22,"de":-49.2},{"e":1,"i":3,"ra":843.11,"de":-49.19},{"e":1,"i":4,"ra":845.71,"de":-48.81},{"e":1,"i":5,"ra":843.5,"de":-48.27},{"e":1,"i":6,"ra":837.78,"de":-47.9},{"e":1,"i":7,"ra":831.89,"de":-47.91},
{"e":2,"i":0,"ra":797.91,"de":-46.85},{"e":2,"i":1,"ra":798.8,"de":-47.32},{"e":2,"i":2,"ra":802.0,"de":-47.97},{"e":2,"i":3,"ra":805.63,"de":-48.42},{"e":2,"i":4,"ra":807.57,"de":-48.41},{"e":2,"i":5,"ra":806.68,"de":-47.94},{"e":2,"i":6,"ra":803.48,"de":-47.29},{"e":2,"i":7,"ra":799.85,"de":-46.84},
{"e":3,"i":0,"ra":795.5,"de":-46.33},{"e":3,"i":1,"ra":794.65,"de":-45.87},{"e":3,"i":2,"ra":792.6,"de":-45.68},{"e":3,"i":3,"ra":790.55,"de":-45.87},{"e":3,"i":4,"ra":789.7,"de":-46.33},{"e":3,"i":5,"ra":790.55,"de":-46.79},{"e":3,"i":6,"ra":792.6,"de":-46.98},{"e":3,"i":7,"ra":794.65,"de":-46.79},
{"e":4,"i":0,"ra":796.49,"de":-43.46},{"e":4,"i":1,"ra":794.79,"de":-42.82},{"e":4,"i":2,"ra":790.7,"de":-42.55},{"e":4,"i":3,"ra":786.61,"de":-42.82},{"e":4,"i":4,"ra":784.91,"de":-43.46},{"e":4,"i":5,"ra":786.61,"de":-44.1},{"e":4,"i":6,"ra":790.7,"de":-44.37},{"e":4,"i":7,"ra":794.79,"de":-44.1},
{"e":5,"i":0,"ra":795.48,"de":-36.92},{"e":5,"i":1,"ra":794.49,"de":-36.46},{"e":5,"i":2,"ra":792.1,"de":-36.27},{"e":5,"i":3,"ra":789.71,"de":-36.46},{"e":5,"i":4,"ra":788.72,"de":-36.92},{"e":5,"i":5,"ra":789.71,"de":-37.38},{"e":5,"i":6,"ra":792.1,"de":-37.57},{"e":5,"i":7,"ra":794.49,"de":-37.38},
{"e":6,"i":0,"ra":785.83,"de":-41.49},{"e":6,"i":1,"ra":784.7,"de":-40.94},{"e":6,"i":2,"ra":781.97,"de":-40.71},{"e":6,"i":3,"ra":779.24,"de":-40.94},{"e":6,"i":4,"ra":778.11,"de":-41.49},{"e":6,"i":5,"ra":779.24,"de":-42.04},{"e":6,"i":6,"ra":781.97,"de":-42.27},{"e":6,"i":7,"ra":784.7,"de":-42.04},
{"e":7,"i":0,"ra":777.14,"de":-39.54},{"e":7,"i":1,"ra":776.01,"de":-38.99},{"e":7,"i":2,"ra":773.28,"de":-38.76},{"e":7,"i":3,"ra":770.55,"de":-38.99},{"e":7,"i":4,"ra":769.42,"de":-39.54},{"e":7,"i":5,"ra":770.55,"de":-40.09},{"e":7,"i":6,"ra":773.28,"de":-40.32},{"e":7,"i":7,"ra":776.01,"de":-40.09},
{"e":8,"i":0,"ra":756.87,"de":-40.84},{"e":8,"i":1,"ra":758.56,"de":-41.47},{"e":8,"i":2,"ra":763.22,"de":-41.88},{"e":8,"i":3,"ra":768.12,"de":-41.84},{"e":8,"i":4,"ra":770.39,"de":-41.36},{"e":8,"i":5,"ra":768.7,"de":-40.73},{"e":8,"i":6,"ra":764.04,"de":-40.32},{"e":8,"i":7,"ra":759.14,"de":-40.36},
{"e":9,"i":0,"ra":725.48,"de":-39.4},{"e":9,"i":1,"ra":727.83,"de":-39.77},{"e":9,"i":2,"ra":732.19,"de":-39.62},{"e":9,"i":3,"ra":736.02,"de":-39.04},{"e":9,"i":4,"ra":737.06,"de":-38.36},{"e":9,"i":5,"ra":734.71,"de":-37.99},{"e":9,"i":6,"ra":730.35,"de":-38.14},{"e":9,"i":7,"ra":726.53,"de":-38.73},
{"e":10,"i":0,"ra":718.23,"de":-38.49},{"e":10,"i":1,"ra":716.53,"de":-37.29},{"e":10,"i":2,"ra":712.44,"de":-36.79},{"e":10,"i":3,"ra":708.35,"de":-37.29},{"e":10,"i":4,"ra":706.65,"de":-38.49},{"e":10,"i":5,"ra":708.35,"de":-39.69},{"e":10,"i":6,"ra":712.44,"de":-40.19},{"e":10,"i":7,"ra":716.53,"de":-39.69},
{"e":11,"i":0,"ra":701.35,"de":-37.71},{"e":11,"i":1,"ra":700.08,"de":-37.07},{"e":11,"i":2,"ra":697.0,"de":-36.8},{"e":11,"i":3,"ra":693.92,"de":-37.07},{"e":11,"i":4,"ra":692.65,"de":-37.71},{"e":11,"i":5,"ra":693.92,"de":-38.35},{"e":11,"i":6,"ra":697.0,"de":-38.62},{"e":11,"i":7,"ra":700.08,"de":-38.35}
],
"tk1":[
{"k":"b1","ra":660,"de":-45},{"k":"b1","ra":660,"de":-44.353},{"k":"b2","ra":645,"de":-45},{"k":"b2","ra":645,"de":-44.353},{"k":"b3","ra":630,"de":-45},{"k":"b3","ra":630,"de":-44.353},{"k":"b4","ra":615,"de":-45},{"k":"b4","ra":615,"de":-44.353},{"k":"b5","ra":600,"de":-45},{"k":"b5","ra":600,"de":-44.353},{"k":"b6","ra":585,"de":-45},{"k":"b6","ra":585,"de":-44.353},
{"k":"t1","ra":660,"de":-10},{"k":"t1","ra":660,"de":-10.647},{"k":"t2","ra":645,"de":-10},{"k":"t2","ra":645,"de":-10.647},{"k":"t3","ra":630,"de":-10},{"k":"t3","ra":630,"de":-10.647},{"k":"t4","ra":615,"de":-10},{"k":"t4","ra":615,"de":-10.647},{"k":"t5","ra":600,"de":-10},{"k":"t5","ra":600,"de":-10.647},{"k":"t6","ra":585,"de":-10},{"k":"t6","ra":585,"de":-10.647},
{"k":"l1","ra":675,"de":-40},{"k":"l1","ra":672.95,"de":-40},{"k":"l2","ra":675,"de":-35},{"k":"l2","ra":672.95,"de":-35},{"k":"l3","ra":675,"de":-30},{"k":"l3","ra":672.95,"de":-30},{"k":"l4","ra":675,"de":-25},{"k":"l4","ra":672.95,"de":-25},{"k":"l5","ra":675,"de":-20},{"k":"l5","ra":672.95,"de":-20},{"k":"l6","ra":675,"de":-15},{"k":"l6","ra":672.95,"de":-15},
{"k":"r1","ra":570,"de":-40},{"k":"r1","ra":572.05,"de":-40},{"k":"r2","ra":570,"de":-35},{"k":"r2","ra":572.05,"de":-35},{"k":"r3","ra":570,"de":-30},{"k":"r3","ra":572.05,"de":-30},{"k":"r4","ra":570,"de":-25},{"k":"r4","ra":572.05,"de":-25},{"k":"r5","ra":570,"de":-20},{"k":"r5","ra":572.05,"de":-20},{"k":"r6","ra":570,"de":-15},{"k":"r6","ra":572.05,"de":-15}
],
"tk3":[
{"k":"b1","ra":1020,"de":-75},{"k":"b1","ra":1020,"de":-74.353},{"k":"b2","ra":1005,"de":-75},{"k":"b2","ra":1005,"de":-74.353},{"k":"b3","ra":990,"de":-75},{"k":"b3","ra":990,"de":-74.353},{"k":"b4","ra":975,"de":-75},{"k":"b4","ra":975,"de":-74.353},{"k":"b5","ra":960,"de":-75},{"k":"b5","ra":960,"de":-74.353},{"k":"b6","ra":945,"de":-75},{"k":"b6","ra":945,"de":-74.353},{"k":"b7","ra":930,"de":-75},{"k":"b7","ra":930,"de":-74.353},
{"k":"t1","ra":1020,"de":-40},{"k":"t1","ra":1020,"de":-40.647},{"k":"t2","ra":1005,"de":-40},{"k":"t2","ra":1005,"de":-40.647},{"k":"t3","ra":990,"de":-40},{"k":"t3","ra":990,"de":-40.647},{"k":"t4","ra":975,"de":-40},{"k":"t4","ra":975,"de":-40.647},{"k":"t5","ra":960,"de":-40},{"k":"t5","ra":960,"de":-40.647},{"k":"t6","ra":945,"de":-40},{"k":"t6","ra":945,"de":-40.647},{"k":"t7","ra":930,"de":-40},{"k":"t7","ra":930,"de":-40.647},
{"k":"l1","ra":1035,"de":-70},{"k":"l1","ra":1032.657,"de":-70},{"k":"l2","ra":1035,"de":-65},{"k":"l2","ra":1032.657,"de":-65},{"k":"l3","ra":1035,"de":-60},{"k":"l3","ra":1032.657,"de":-60},{"k":"l4","ra":1035,"de":-55},{"k":"l4","ra":1032.657,"de":-55},{"k":"l5","ra":1035,"de":-50},{"k":"l5","ra":1032.657,"de":-50},{"k":"l6","ra":1035,"de":-45},{"k":"l6","ra":1032.657,"de":-45},
{"k":"r1","ra":915,"de":-70},{"k":"r1","ra":917.343,"de":-70},{"k":"r2","ra":915,"de":-65},{"k":"r2","ra":917.343,"de":-65},{"k":"r3","ra":915,"de":-60},{"k":"r3","ra":917.343,"de":-60},{"k":"r4","ra":915,"de":-55},{"k":"r4","ra":917.343,"de":-55},{"k":"r5","ra":915,"de":-50},{"k":"r5","ra":917.343,"de":-50},{"k":"r6","ra":915,"de":-45},{"k":"r6","ra":917.343,"de":-45}
],
"tk5":[
{"k":"b1","ra":840,"de":-70},{"k":"b1","ra":840,"de":-68.891},{"k":"b2","ra":810,"de":-70},{"k":"b2","ra":810,"de":-68.891},{"k":"b3","ra":780,"de":-70},{"k":"b3","ra":780,"de":-68.891},{"k":"b4","ra":750,"de":-70},{"k":"b4","ra":750,"de":-68.891},{"k":"b5","ra":720,"de":-70},{"k":"b5","ra":720,"de":-68.891},{"k":"b6","ra":690,"de":-70},{"k":"b6","ra":690,"de":-68.891},
{"k":"t1","ra":840,"de":-10},{"k":"t1","ra":840,"de":-11.109},{"k":"t2","ra":810,"de":-10},{"k":"t2","ra":810,"de":-11.109},{"k":"t3","ra":780,"de":-10},{"k":"t3","ra":780,"de":-11.109},{"k":"t4","ra":750,"de":-10},{"k":"t4","ra":750,"de":-11.109},{"k":"t5","ra":720,"de":-10},{"k":"t5","ra":720,"de":-11.109},{"k":"t6","ra":690,"de":-10},{"k":"t6","ra":690,"de":-11.109},
{"k":"l1","ra":870,"de":-60},{"k":"l1","ra":865.9,"de":-60},{"k":"l2","ra":870,"de":-50},{"k":"l2","ra":865.9,"de":-50},{"k":"l3","ra":870,"de":-40},{"k":"l3","ra":865.9,"de":-40},{"k":"l4","ra":870,"de":-30},{"k":"l4","ra":865.9,"de":-30},{"k":"l5","ra":870,"de":-20},{"k":"l5","ra":865.9,"de":-20},
{"k":"r1","ra":660,"de":-60},{"k":"r1","ra":664.1,"de":-60},{"k":"r2","ra":660,"de":-50},{"k":"r2","ra":664.1,"de":-50},{"k":"r3","ra":660,"de":-40},{"k":"r3","ra":664.1,"de":-40},{"k":"r4","ra":660,"de":-30},{"k":"r4","ra":664.1,"de":-30},{"k":"r5","ra":660,"de":-20},{"k":"r5","ra":664.1,"de":-20}
]
},
"columns":2,
"bounds":"flush",
"spacing":{"row":73,"column":99},
"concat":[
{"width":461,"height":487,"resolve":{"axis":{"x":"independent","y":"independent"}},"layer":[
{"data":{"name":"pts1"},"mark":{"type":"point","filled":true,"size":6,"color":"black","opacity":1},
"encoding":{"x":{"field":"ra","type":"quantitative","scale":{"domain":[675,570],"nice":false,"zero":false},"axis":{"values":[675,660,645,630,615,600,585,570],"labelExpr":"(floor(datum.value/60) < 10 ? '0' : '') + floor(datum.value/60) + 'ʰ' + (datum.value % 60 < 10 ? '0' : '') + (datum.value % 60) + 'ᵐ'","title":"Right Ascension"}},
"y":{"field":"de","type":"quantitative","scale":{"domain":[-45,-10],"nice":false,"zero":false},"axis":{"values":[-45,-40,-35,-30,-25,-20,-15,-10],"title":"Declination (degrees)"}}}},
{"data":{"name":"ell1"},"mark":{"type":"line","interpolate":"cardinal-closed","color":"black","strokeWidth":1},"encoding":{"x":{"field":"ra","type":"quantitative","axis":null},"y":{"field":"de","type":"quantitative","axis":null},"detail":{"field":"e","type":"nominal"},"order":{"field":"i","type":"quantitative"}}},
{"data":{"name":"tk1"},"mark":{"type":"line","color":"black","strokeWidth":1},"encoding":{"x":{"field":"ra","type":"quantitative","axis":null},"y":{"field":"de","type":"quantitative","axis":null},"detail":{"field":"k","type":"nominal"}}}
]},
{"width":461,"height":487,"resolve":{"axis":{"x":"independent","y":"independent"}},"layer":[
{"data":{"name":"pts1"},"transform":[{"filter":"datum.g == 1"}],"mark":{"type":"point","filled":true,"size":6,"color":"black","opacity":1},
"encoding":{"x":{"field":"ra","type":"quantitative","scale":{"domain":[675,570],"nice":false,"zero":false},"axis":{"values":[675,660,645,630,615,600,585,570],"labelExpr":"(floor(datum.value/60) < 10 ? '0' : '') + floor(datum.value/60) + 'ʰ' + (datum.value % 60 < 10 ? '0' : '') + (datum.value % 60) + 'ᵐ'","title":"Right Ascension"}},
"y":{"field":"de","type":"quantitative","scale":{"domain":[-45,-10],"nice":false,"zero":false},"axis":{"values":[-45,-40,-35,-30,-25,-20,-15,-10],"title":"Declination (degrees)"}}}},
{"data":{"name":"ell2"},"mark":{"type":"line","interpolate":"cardinal-closed","color":"black","strokeWidth":1},"encoding":{"x":{"field":"ra","type":"quantitative","axis":null},"y":{"field":"de","type":"quantitative","axis":null},"detail":{"field":"e","type":"nominal"},"order":{"field":"i","type":"quantitative"}}},
{"data":{"name":"tk1"},"mark":{"type":"line","color":"black","strokeWidth":1},"encoding":{"x":{"field":"ra","type":"quantitative","axis":null},"y":{"field":"de","type":"quantitative","axis":null},"detail":{"field":"k","type":"nominal"}}}
]},
{"width":461,"height":487,"resolve":{"axis":{"x":"independent","y":"independent"}},"layer":[
{"data":{"name":"pts3"},"mark":{"type":"point","filled":true,"size":6,"color":"black","opacity":1},
"encoding":{"x":{"field":"ra","type":"quantitative","scale":{"domain":[1035,915],"nice":false,"zero":false},"axis":{"values":[1035,1020,1005,990,975,960,945,930,915],"labelExpr":"(floor(datum.value/60) < 10 ? '0' : '') + floor(datum.value/60) + 'ʰ' + (datum.value % 60 < 10 ? '0' : '') + (datum.value % 60) + 'ᵐ'","title":"Right Ascension"}},
"y":{"field":"de","type":"quantitative","scale":{"domain":[-75,-40],"nice":false,"zero":false},"axis":{"values":[-75,-70,-65,-60,-55,-50,-45,-40],"title":"Declination (degrees)"}}}},
{"data":{"name":"ell3"},"mark":{"type":"line","interpolate":"cardinal-closed","color":"black","strokeWidth":1},"encoding":{"x":{"field":"ra","type":"quantitative","axis":null},"y":{"field":"de","type":"quantitative","axis":null},"detail":{"field":"e","type":"nominal"},"order":{"field":"i","type":"quantitative"}}},
{"data":{"name":"tk3"},"mark":{"type":"line","color":"black","strokeWidth":1},"encoding":{"x":{"field":"ra","type":"quantitative","axis":null},"y":{"field":"de","type":"quantitative","axis":null},"detail":{"field":"k","type":"nominal"}}}
]},
{"width":461,"height":487,"resolve":{"axis":{"x":"independent","y":"independent"}},"layer":[
{"data":{"name":"pts3"},"transform":[{"filter":"datum.g == 1"}],"mark":{"type":"point","filled":true,"size":6,"color":"black","opacity":1},
"encoding":{"x":{"field":"ra","type":"quantitative","scale":{"domain":[1035,915],"nice":false,"zero":false},"axis":{"values":[1035,1020,1005,990,975,960,945,930,915],"labelExpr":"(floor(datum.value/60) < 10 ? '0' : '') + floor(datum.value/60) + 'ʰ' + (datum.value % 60 < 10 ? '0' : '') + (datum.value % 60) + 'ᵐ'","title":"Right Ascension"}},
"y":{"field":"de","type":"quantitative","scale":{"domain":[-75,-40],"nice":false,"zero":false},"axis":{"values":[-75,-70,-65,-60,-55,-50,-45,-40],"title":"Declination (degrees)"}}}},
{"data":{"name":"ell4"},"mark":{"type":"line","interpolate":"cardinal-closed","color":"black","strokeWidth":1},"encoding":{"x":{"field":"ra","type":"quantitative","axis":null},"y":{"field":"de","type":"quantitative","axis":null},"detail":{"field":"e","type":"nominal"},"order":{"field":"i","type":"quantitative"}}},
{"data":{"name":"tk3"},"mark":{"type":"line","color":"black","strokeWidth":1},"encoding":{"x":{"field":"ra","type":"quantitative","axis":null},"y":{"field":"de","type":"quantitative","axis":null},"detail":{"field":"k","type":"nominal"}}}
]},
{"width":461,"height":487,"resolve":{"axis":{"x":"independent","y":"independent"}},"layer":[
{"data":{"name":"pts5"},"mark":{"type":"point","filled":true,"size":6,"color":"black","opacity":1},
"encoding":{"x":{"field":"ra","type":"quantitative","scale":{"domain":[870,660],"nice":false,"zero":false},"axis":{"values":[870,840,810,780,750,720,690,660],"labelExpr":"(floor(datum.value/60) < 10 ? '0' : '') + floor(datum.value/60) + 'ʰ' + (datum.value % 60 < 10 ? '0' : '') + (datum.value % 60) + 'ᵐ'","title":"Right Ascension"}},
"y":{"field":"de","type":"quantitative","scale":{"domain":[-70,-10],"nice":false,"zero":false},"axis":{"values":[-70,-60,-50,-40,-30,-20,-10],"title":"Declination (degrees)"}}}},
{"data":{"name":"ell5"},"mark":{"type":"line","interpolate":"cardinal-closed","color":"black","strokeWidth":1},"encoding":{"x":{"field":"ra","type":"quantitative","axis":null},"y":{"field":"de","type":"quantitative","axis":null},"detail":{"field":"e","type":"nominal"},"order":{"field":"i","type":"quantitative"}}},
{"data":{"name":"tk5"},"mark":{"type":"line","color":"black","strokeWidth":1},"encoding":{"x":{"field":"ra","type":"quantitative","axis":null},"y":{"field":"de","type":"quantitative","axis":null},"detail":{"field":"k","type":"nominal"}}}
]},
{"width":461,"height":487,"resolve":{"axis":{"x":"independent","y":"independent"}},"layer":[
{"data":{"name":"pts5"},"transform":[{"filter":"datum.g == 1"}],"mark":{"type":"point","filled":true,"size":6,"color":"black","opacity":1},
"encoding":{"x":{"field":"ra","type":"quantitative","scale":{"domain":[870,660],"nice":false,"zero":false},"axis":{"values":[870,840,810,780,750,720,690,660],"labelExpr":"(floor(datum.value/60) < 10 ? '0' : '') + floor(datum.value/60) + 'ʰ' + (datum.value % 60 < 10 ? '0' : '') + (datum.value % 60) + 'ᵐ'","title":"Right Ascension"}},
"y":{"field":"de","type":"quantitative","scale":{"domain":[-70,-10],"nice":false,"zero":false},"axis":{"values":[-70,-60,-50,-40,-30,-20,-10],"title":"Declination (degrees)"}}}},
{"data":{"name":"ell6"},"mark":{"type":"line","interpolate":"cardinal-closed","color":"black","strokeWidth":1},"encoding":{"x":{"field":"ra","type":"quantitative","axis":null},"y":{"field":"de","type":"quantitative","axis":null},"detail":{"field":"e","type":"nominal"},"order":{"field":"i","type":"quantitative"}}},
{"data":{"name":"tk5"},"mark":{"type":"line","color":"black","strokeWidth":1},"encoding":{"x":{"field":"ra","type":"quantitative","axis":null},"y":{"field":"de","type":"quantitative","axis":null},"detail":{"field":"k","type":"nominal"}}}
]}
]
}
